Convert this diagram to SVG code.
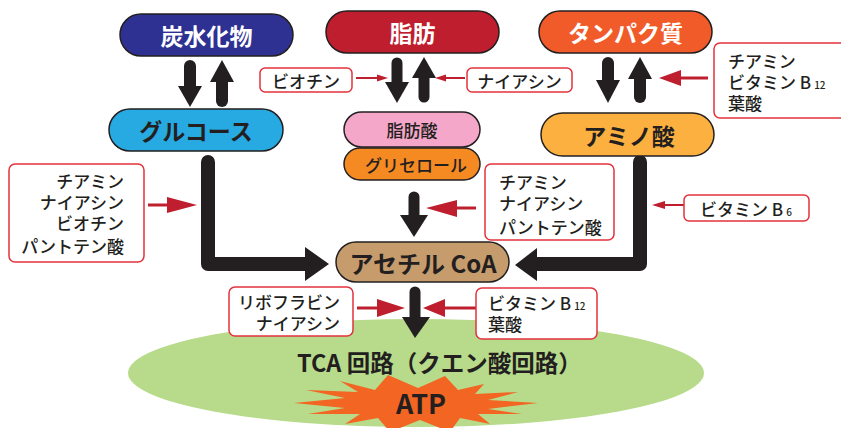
<svg xmlns="http://www.w3.org/2000/svg" width="841" height="428" viewBox="0 0 841 428">
<defs>
<style>
.node{stroke:#231f20;stroke-width:1.5}
.t{font-family:"Noto Sans CJK JP","Noto Sans",sans-serif;font-weight:700;font-size:23px;text-anchor:middle;dominant-baseline:central}
.tw{fill:#ffffff}
.td{fill:#231f20}
.ts{font-family:"Noto Sans CJK JP","Noto Sans",sans-serif;font-weight:500;font-size:17px;fill:#231f20;dominant-baseline:central}
.vbox{fill:#ffffff;stroke:#e2323b;stroke-width:1.5}
.blk{stroke:#231f20;fill:none;stroke-linecap:round;stroke-linejoin:round}
.bh{fill:#231f20}
.rl{stroke:#be1e2d;fill:none}
.rh{fill:#be1e2d}
.sub{font-size:10px}
</style>
</defs>
<rect width="841" height="428" fill="#ffffff"/>
<g id="tca">
<ellipse cx="416" cy="373" rx="288" ry="54" fill="#b7db8b"/>
<text class="t td" x="297" y="362" style="text-anchor:start;font-size:23.5px">TCA 回路（クエン酸回路）</text>
</g>
<g id="atp">
<polygon fill="#f26522" points="294,403 345,398 306,390 358,392 340,381 375,390 388,375 418,388 445,376 458,390 484,384 475,394 518,392 488,400 538,403 488,409 522,414 478,414 490,424 460,418 450,432 420,420 390,432 378,418 345,424 360,414 308,414 345,408"/>
<text class="t td" x="421" y="402" style="font-size:27px">ATP</text>
</g>
<g id="connectors">
<line class="blk" x1="190" y1="66" x2="190" y2="88" stroke-width="12"/>
<polygon class="bh" points="178,86 202,86 190,107"/>
<line class="blk" x1="222" y1="80" x2="222" y2="101" stroke-width="12"/>
<polygon class="bh" points="210,82 234,82 222,60"/>
<line class="blk" x1="397" y1="63" x2="397" y2="84" stroke-width="11"/>
<polygon class="bh" points="385,82 409,82 397,103"/>
<line class="blk" x1="424" y1="76" x2="424" y2="97" stroke-width="11"/>
<polygon class="bh" points="412,78 436,78 424,57"/>
<line class="blk" x1="608" y1="63" x2="608" y2="84" stroke-width="12"/>
<polygon class="bh" points="596,80 620,80 608,103"/>
<line class="blk" x1="640" y1="77" x2="640" y2="97" stroke-width="12"/>
<polygon class="bh" points="628,79 652,79 640,57"/>
<line class="blk" x1="414" y1="197" x2="414" y2="218" stroke-width="11"/>
<polygon class="bh" points="400,215 428,215 414,237"/>
<line class="blk" x1="415" y1="292" x2="415" y2="320" stroke-width="11"/>
<polygon class="bh" points="402,317 430,317 415,338"/>
<path class="blk" d="M208,162 V264 H307" stroke-width="14"/>
<polygon class="bh" points="305,247 305,281 329,264"/>
<path class="blk" d="M640,162 V264 H535" stroke-width="14"/>
<polygon class="bh" points="537,248 537,281 515,265"/>
<line class="rl" x1="356" y1="78" x2="379" y2="78" stroke-width="2"/>
<polygon class="rh" points="377,74.5 377,81.5 388,78"/>
<line class="rl" x1="465" y1="78" x2="444" y2="78" stroke-width="2"/>
<polygon class="rh" points="446,74.5 446,81.5 435,78"/>
<line class="rl" x1="708" y1="78" x2="679" y2="78" stroke-width="3"/>
<polygon class="rh" points="681,70 681,86 659,78"/>
<line class="rl" x1="148" y1="205" x2="169" y2="205" stroke-width="3"/>
<polygon class="rh" points="167,197 167,213 197,205"/>
<line class="rl" x1="476" y1="208" x2="455" y2="208" stroke-width="3"/>
<polygon class="rh" points="457,200 457,217 426,208"/>
<line class="rl" x1="684" y1="205" x2="663" y2="205" stroke-width="2"/>
<polygon class="rh" points="665,201 665,209 652,205"/>
<line class="rl" x1="357" y1="308" x2="379" y2="308" stroke-width="3"/>
<polygon class="rh" points="377,299 377,317 405,308"/>
<line class="rl" x1="476" y1="308" x2="443" y2="308" stroke-width="3"/>
<polygon class="rh" points="445,299 445,317 423,308"/>
</g>
<g id="n-carb"><rect class="node" x="120" y="14" width="173" height="42" rx="21" fill="#2e3192"/><text class="t tw" x="206.5" y="35">炭水化物</text></g>
<g id="n-fat"><rect class="node" x="326" y="11" width="173" height="42" rx="21" fill="#be1e2d"/><text class="t tw" x="412.5" y="32">脂肪</text></g>
<g id="n-protein"><rect class="node" x="539" y="11" width="173" height="42" rx="21" fill="#f15a29"/><text class="t tw" x="625.5" y="32">タンパク質</text></g>
<g id="n-glucose"><rect class="node" x="109" y="109" width="174" height="42" rx="21" fill="#27aae1"/><text class="t td" x="196" y="130">グルコース</text></g>
<g id="n-fattyacid"><rect class="node" x="344" y="112" width="136" height="35" rx="17.5" fill="#f4a7c9"/><text class="ts" x="412" y="129.5" style="text-anchor:middle">脂肪酸</text></g>
<g id="n-glycerol"><rect class="node" x="344" y="148" width="136" height="32" rx="16" fill="#f58a22"/><text class="ts" x="416" y="164" style="text-anchor:middle">グリセロール</text></g>
<g id="n-amino"><rect class="node" x="541" y="113" width="173" height="43" rx="21.5" fill="#fbb040"/><text class="t td" x="629" y="134.5">アミノ酸</text></g>
<g id="n-acetylcoa"><rect class="node" x="336" y="242" width="173" height="40" rx="20" fill="#c69c6d"/><text class="t td" x="423" y="262" style="font-size:24px">アセチル CoA</text></g>
<g id="v-biotin"><rect class="vbox" x="260" y="68" width="92" height="24" rx="5"/><text class="ts" x="306" y="80" style="text-anchor:middle">ビオチン</text></g>
<g id="v-niacin"><rect class="vbox" x="467" y="68" width="105" height="24" rx="5"/><text class="ts" x="519.5" y="80" style="text-anchor:middle">ナイアシン</text></g>
<g id="v-protein"><rect class="vbox" x="714" y="43" width="140" height="75" rx="6"/>
<text class="ts"><tspan x="728" y="60">チアミン</tspan><tspan x="728" y="81">ビタミン B</tspan><tspan class="sub" dx="3" dy="2.5">12</tspan><tspan x="728" y="102">葉酸</tspan></text></g>
<g id="v-glucose"><rect class="vbox" x="9" y="164" width="135" height="98" rx="6"/>
<text class="ts" style="text-anchor:end"><tspan x="124" y="180">チアミン</tspan><tspan x="124" y="201">ナイアシン</tspan><tspan x="124" y="222">ビオチン</tspan><tspan x="124" y="245">パントテン酸</tspan></text></g>
<g id="v-glycerol"><rect class="vbox" x="485" y="164" width="129" height="76" rx="6"/>
<text class="ts"><tspan x="499" y="181">チアミン</tspan><tspan x="499" y="202">ナイアシン</tspan><tspan x="499" y="226">パントテン酸</tspan></text></g>
<g id="v-b6"><rect class="vbox" x="684" y="195" width="125" height="26" rx="5"/>
<text class="ts" x="700" y="208">ビタミン B<tspan class="sub" dx="3" dy="2.5">6</tspan></text></g>
<g id="v-ribo"><rect class="vbox" x="229" y="287" width="124" height="49" rx="6"/>
<text class="ts" style="text-anchor:end"><tspan x="340" y="301">リボフラビン</tspan><tspan x="340" y="322">ナイアシン</tspan></text></g>
<g id="v-b12"><rect class="vbox" x="476" y="288" width="121" height="51" rx="6"/>
<text class="ts"><tspan x="488" y="302">ビタミン B</tspan><tspan class="sub" dx="3" dy="2.5">12</tspan><tspan x="488" y="323">葉酸</tspan></text></g>
</svg>
